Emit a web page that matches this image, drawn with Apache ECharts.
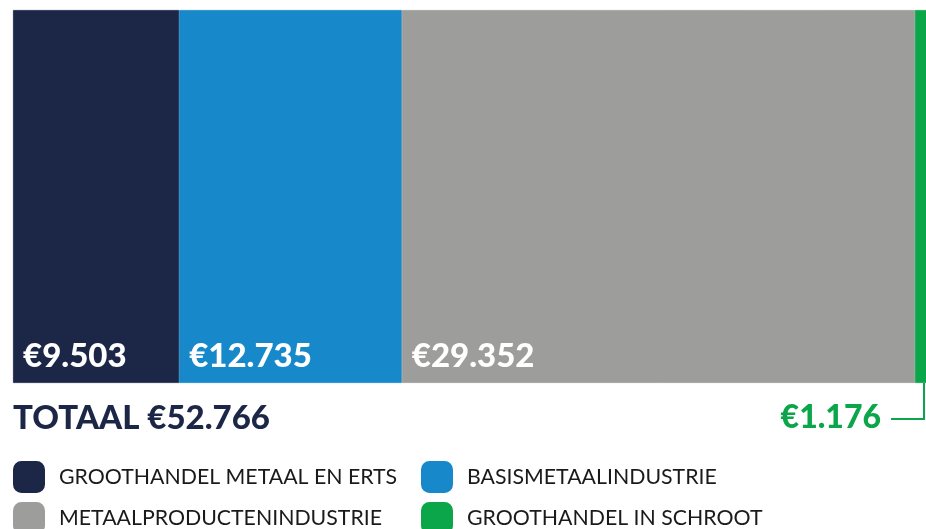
<!DOCTYPE html>
<html>
<head>
<meta charset="utf-8">
<script src="https://cdn.jsdelivr.net/npm/echarts@6/dist/echarts.min.js"></script>
<style>
*{margin:0;padding:0;}
body{background:#fff;}
#chart{width:926px;height:529px;}
</style>
</head>
<body>
<div id="chart"></div>
<script>
// omzet per deelsector (x mln euro)
var sectors = ['GROOTHANDEL METAAL EN ERTS', 'BASISMETAALINDUSTRIE', 'METAALPRODUCTENINDUSTRIE', 'GROOTHANDEL IN SCHROOT']
var values = [9503, 12735, 29352, 1176]
var colors = ['#1c2748', '#1788c9', '#9d9d9c', '#0ba54a']
var totalValue = 52766

// plek van elk legenda-item: [left, top]
var legendPos = [[13, 461], [421, 461], [13, 502], [421, 502]]

function euro(v){
  return '€' + String(v).replace(/\B(?=(\d{3})+(?!\d))/g, '.')
}

var chart = echarts.init(document.getElementById('chart'))

var series = sectors.map(function(name, i){
  return {
    name: name,
    type: 'bar',
    stack: 'totaal',
    barWidth: '100%',
    clip: true,
    itemStyle: {color: colors[i], borderColor: colors[i], borderWidth: 0.8},
    label: {
      show: i < 3,
      position: 'insideBottomLeft',
      distance: 0,
      padding: [0, 0, 10, 10],
      color: '#fff',
      fontFamily: 'Lato',
      fontWeight: 900,
      fontSize: 33,
      formatter: function(p){ return euro(p.value) }
    },
    data: [values[i]]
  }
})

var legends = sectors.map(function(name, i){
  return {
    data: [name],
    left: legendPos[i][0],
    top: legendPos[i][1],
    padding: 0,
    itemWidth: 30,
    itemHeight: 30,
    icon: 'roundRect',
    textStyle: {fontFamily: 'Lato', fontSize: 21.3, color: '#1a1a1a', padding: [0, 0, 0, 10]}
  }
})

var option = {
  animation: false,
  grid: {left: 13, right: 0, top: 10, bottom: 146},
  xAxis: {
    type: 'value',
    min: 0,
    max: 52219, // laatste segment loopt tot de rand
    show: false
  },
  yAxis: {
    type: 'category',
    data: ['omzet'],
    show: false
  },
  legend: legends,
  graphic: [
    {
      type: 'text',
      left: 13,
      top: 402,
      style: {
        text: 'TOTAAL ' + euro(totalValue),
        fill: colors[0],
        font: '900 33px Lato'
      }
    },
    {
      type: 'text',
      right: 45,
      top: 402,
      style: {
        text: euro(values[3]),
        fill: colors[3],
        font: '900 32px Lato'
      }
    },
    {
      type: 'polyline',
      shape: {points: [[924, 383], [924, 419], [891, 419]]},
      style: {stroke: colors[3], lineWidth: 2, fill: null}
    }
  ],
  series: series
}

chart.setOption(option)
</script>
</body>
</html>
